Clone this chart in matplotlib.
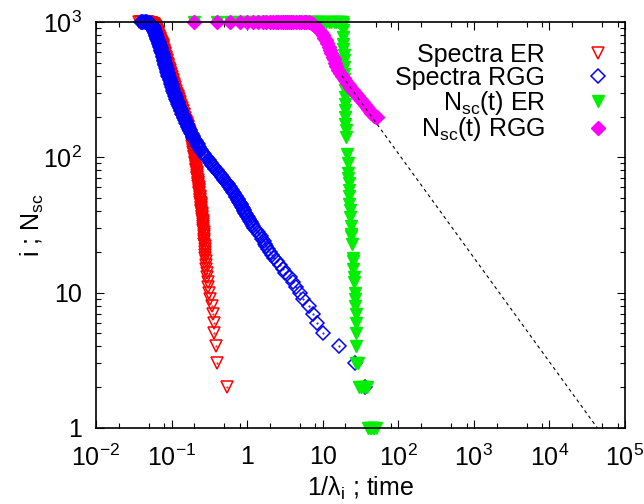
import matplotlib
matplotlib.use("Agg")
import matplotlib.pyplot as plt
from matplotlib.ticker import LogLocator, NullFormatter

plt.rcParams['font.family'] = ['Liberation Sans', 'DejaVu Sans']
plt.rcParams['mathtext.fontset'] = 'custom'
plt.rcParams['mathtext.rm'] = 'Liberation Sans'
plt.rcParams['mathtext.it'] = 'Liberation Sans:italic'
plt.rcParams['mathtext.default'] = 'regular'

# eigenvalue index i (shared by both spectra)
spec_i = [1000, 999, 998, 996, 994, 992, 990, 985, 980, 975,
          970, 965, 960, 955, 950, 945, 940, 930, 920, 910,
          900, 888, 875, 862, 850, 838, 825, 812, 800, 788,
          775, 762, 750, 738, 725, 712, 700, 688, 675, 662,
          650, 638, 625, 612, 600, 588, 575, 562, 550, 538,
          525, 512, 500, 490, 480, 470, 460, 450, 440, 430,
          420, 410, 400, 390, 380, 370, 360, 350, 340, 330,
          320, 310, 300, 292, 285, 278, 270, 262, 255, 248,
          240, 232, 225, 218, 210, 205, 200, 195, 190, 185,
          180, 175, 170, 166, 162, 158, 155, 152, 148, 144,
          140, 137, 134, 131, 128, 125, 122, 119, 116, 113,
          110, 107, 105, 102, 100, 98, 95, 92, 90, 88,
          86, 84, 82, 80, 78, 76, 74, 72, 70, 68,
          66, 64, 63, 61, 60, 58, 57, 55, 54, 52,
          51, 49, 48, 47, 46, 45, 44, 43, 42, 41,
          40, 39, 38, 37, 36, 35, 34, 33, 32, 31,
          30, 29, 28, 27, 26, 25, 24, 23, 22, 21,
          20, 19, 18, 17, 16, 15, 14, 13, 12, 11,
          10, 9, 8, 7, 6, 5, 4, 3, 2]

# 1/lambda_i, ER spectrum
er_x = [0.037, 0.040, 0.042, 0.045, 0.047, 0.049, 0.050, 0.052, 0.054, 0.055,
        0.056, 0.057, 0.058, 0.0585, 0.059, 0.0595, 0.060, 0.0605, 0.061, 0.0615,
        0.062, 0.063, 0.064, 0.0645, 0.065, 0.0655, 0.066, 0.0665, 0.067, 0.068,
        0.069, 0.0695, 0.070, 0.071, 0.072, 0.073, 0.074, 0.075, 0.076, 0.0765,
        0.077, 0.078, 0.079, 0.0795, 0.080, 0.081, 0.082, 0.083, 0.084, 0.085,
        0.086, 0.087, 0.088, 0.089, 0.090, 0.091, 0.092, 0.093, 0.094, 0.095,
        0.096, 0.0975, 0.099, 0.1005, 0.102, 0.1035, 0.105, 0.1065, 0.108, 0.110,
        0.112, 0.114, 0.116, 0.118, 0.120, 0.122, 0.124, 0.126, 0.128, 0.1305,
        0.133, 0.1355, 0.138, 0.141, 0.144, 0.146, 0.148, 0.1505, 0.153, 0.1555,
        0.158, 0.1605, 0.163, 0.165, 0.167, 0.169, 0.171, 0.173, 0.175, 0.1775,
        0.180, 0.1815, 0.183, 0.1845, 0.186, 0.1875, 0.189, 0.1905, 0.192, 0.1935,
        0.195, 0.1965, 0.198, 0.1995, 0.201, 0.202, 0.204, 0.206, 0.207, 0.2085,
        0.210, 0.211, 0.212, 0.2135, 0.215, 0.2165, 0.218, 0.219, 0.220, 0.2215,
        0.223, 0.224, 0.225, 0.227, 0.228, 0.229, 0.230, 0.232, 0.233, 0.235,
        0.236, 0.238, 0.239, 0.2405, 0.242, 0.243, 0.244, 0.2455, 0.247, 0.248,
        0.249, 0.250, 0.252, 0.253, 0.254, 0.255, 0.257, 0.258, 0.259, 0.261,
        0.262, 0.264, 0.266, 0.267, 0.269, 0.270, 0.272, 0.273, 0.275, 0.276,
        0.278, 0.280, 0.281, 0.283, 0.285, 0.288, 0.292, 0.296, 0.300, 0.304,
        0.310, 0.320, 0.345, 0.355, 0.362, 0.368, 0.385, 0.400, 0.550]

# 1/lambda_i, RGG spectrum
rgg_x = [0.039, 0.041, 0.042, 0.044, 0.046, 0.047, 0.048, 0.050, 0.051, 0.052,
         0.053, 0.0535, 0.054, 0.0545, 0.055, 0.0555, 0.056, 0.0565, 0.057, 0.0575,
         0.058, 0.0585, 0.059, 0.0595, 0.060, 0.0605, 0.061, 0.0615, 0.062, 0.063,
         0.064, 0.0645, 0.065, 0.066, 0.067, 0.0675, 0.068, 0.069, 0.070, 0.0705,
         0.071, 0.072, 0.073, 0.0735, 0.074, 0.075, 0.076, 0.077, 0.078, 0.079,
         0.080, 0.0805, 0.081, 0.082, 0.083, 0.084, 0.085, 0.086, 0.087, 0.088,
         0.089, 0.090, 0.091, 0.0925, 0.094, 0.0955, 0.097, 0.0985, 0.100, 0.102,
         0.104, 0.106, 0.108, 0.110, 0.112, 0.114, 0.116, 0.1185, 0.121, 0.1235,
         0.126, 0.129, 0.132, 0.135, 0.138, 0.141, 0.144, 0.147, 0.150, 0.1535,
         0.157, 0.160, 0.163, 0.1665, 0.170, 0.174, 0.178, 0.182, 0.186, 0.1905,
         0.195, 0.200, 0.205, 0.210, 0.215, 0.221, 0.227, 0.2335, 0.240, 0.2475,
         0.255, 0.2625, 0.270, 0.280, 0.290, 0.298, 0.310, 0.322, 0.330, 0.340,
         0.350, 0.365, 0.380, 0.395, 0.410, 0.428, 0.445, 0.462, 0.480, 0.500,
         0.520, 0.545, 0.560, 0.583, 0.595, 0.618, 0.630, 0.660, 0.675, 0.705,
         0.720, 0.750, 0.765, 0.782, 0.800, 0.820, 0.840, 0.860, 0.880, 0.900,
         0.920, 0.950, 0.975, 1.00, 1.03, 1.05, 1.08, 1.12, 1.15, 1.20,
         1.25, 1.32, 1.38, 1.45, 1.52, 1.58, 1.65, 1.72, 1.80, 1.90,
         2.00, 2.15, 2.30, 2.45, 2.70, 2.95, 3.20, 3.65, 4.10, 4.50,
         5.00, 5.50, 6.60, 7.35, 8.30, 10.2, 16.5, 26.7, 36.0]

# N_sc(t), ER
er_t = [0.2, 0.4, 0.6, 0.8, 1.0, 1.2, 1.4, 1.6, 1.8, 2.0, 2.4, 2.8, 3.2, 3.6, 4.0, 4.5, 5.0, 5.5,
        6.0, 6.5, 7.0, 7.5, 8.0, 8.5, 9.0, 9.5, 10, 11, 12, 13, 14, 15, 16, 17, 18,
        18.2, 18.4, 18.5, 18.6, 18.7, 18.8, 18.9, 19.0, 19.1, 19.2, 19.3, 19.4, 19.5, 19.6, 19.7,
        19.8, 19.9, 20.0, 20.2, 20.4, 21.0, 21.3, 21.6, 21.8, 22.0, 22.2, 22.4, 22.6, 22.8, 23.0,
        23.4, 23.8, 24.0, 24.4, 24.8, 25.0, 25.4, 25.8, 26.0, 26.4, 26.6, 27.0, 27.3, 27.6, 27.8,
        28.0, 27.5, 29.0, 30, 32, 34, 36, 38, 40, 42, 44, 46, 48, 50]
er_n = [1000, 1000, 1000, 1000, 1000, 1000, 1000, 1000, 1000, 1000, 1000, 1000, 1000, 1000, 1000, 1000, 1000, 1000,
        1000, 1000, 1000, 1000, 1000, 1000, 1000, 1000, 1000, 1000, 1000, 1000, 1000, 1000, 1000, 1000, 1000,
        1000, 970, 865, 772, 690, 634, 566, 520, 464, 415, 381, 340, 312, 279, 249,
        222, 198, 177, 158, 141, 106, 90, 76, 70, 64, 57, 52, 45, 41, 36,
        31, 27, 26, 23, 18, 17, 15, 13, 12, 10, 9, 8, 7, 6, 5,
        4, 3, 3, 2, 2, 2, 2, 2, 1, 1, 1, 1, 1, 1]

# N_sc(t), RGG
rgg_t = [0.2, 0.4, 0.6, 0.8, 1.0, 1.2, 1.4, 1.6, 1.8, 2.0, 2.2, 2.4, 2.6, 2.8, 3.0, 3.2, 3.4, 3.6,
         3.8, 4.0, 4.4, 4.8, 5.2, 5.6, 6.0, 6.5, 7.0, 7.5, 8.0, 8.5, 9.0, 9.5, 10, 10.5, 11, 11.5,
         12, 12.5, 13, 13.5, 14, 14.5, 15, 16, 17, 18, 19, 20, 21, 22, 23, 24, 25, 26, 27, 28,
         29, 30, 32, 34, 36, 38, 40, 42, 44, 46, 48, 50, 52]
rgg_n = [1000, 1000, 1000, 1000, 1000, 1000, 1000, 1000, 1000, 1000, 1000, 1000, 1000, 1000, 1000, 1000, 1000, 1000,
         1000, 1000, 1000, 1000, 1000, 1000, 1000, 998, 985, 965, 940, 905, 875, 840, 800, 765, 730, 695,
         650, 615, 585, 555, 530, 500, 475, 445, 420, 400, 385, 370, 355, 342, 330, 320, 312, 305, 298, 292,
         284, 276, 264, 254, 244, 235, 226, 218, 212, 207, 203, 200, 197]

# power-law guide (dashed)
fit_t = [18, 4.3e4]
fit_n = [400, 1]

xtick_vals = [1e-2, 1e-1, 1, 10, 1e2, 1e3, 1e4, 1e5]
xtick_labels = ['$10^{-2}$', '$10^{-1}$', '1', '10', '$10^{2}$', '$10^{3}$', '$10^{4}$', '$10^{5}$']
ytick_vals = [1, 10, 1e2, 1e3]
ytick_labels = ['1', '10', '$10^{2}$', '$10^{3}$']

fig = plt.figure(figsize=(6.44, 5.04), dpi=100)
ax = fig.add_axes([0.149, 0.151, 0.8215, 0.8055])

ax.plot(er_x, spec_i, ls='none', marker='v', ms=9, mfc='none', mec='#ff0000', mew=1.1,
        clip_on=False, label='Spectra ER')
ax.plot(er_x, spec_i, ls='none', marker='.', ms=1, color='#ff0000', clip_on=False)
ax.plot(rgg_x, spec_i, ls='none', marker='D', ms=7, mfc='none', mec='#0000ff', mew=1.1,
        clip_on=False, label='Spectra RGG')
ax.plot(rgg_x, spec_i, ls='none', marker='.', ms=1, color='#0000ff', clip_on=False)
ax.plot(er_t, er_n, ls='none', marker='v', ms=9, color='#00ee00', clip_on=False,
        label='N$_{sc}$(t) ER')
ax.plot(rgg_t, rgg_n, ls='none', marker='D', ms=7, color='#ff00ff', clip_on=False,
        label='N$_{sc}$(t) RGG')
ax.plot(fit_t, fit_n, color='black', lw=0.8, dashes=(3, 3))

ax.set_xscale('log')
ax.set_yscale('log')
ax.set_xlim(1e-2, 1e5)
ax.set_ylim(1, 1e3)
ax.set_xticks(xtick_vals, xtick_labels)
ax.set_yticks(ytick_vals, ytick_labels)
ax.xaxis.set_minor_locator(LogLocator(base=10, subs=[2, 5, 8], numticks=20))
ax.xaxis.set_minor_formatter(NullFormatter())
ax.yaxis.set_minor_locator(LogLocator(base=10, subs=range(2, 10), numticks=20))
ax.yaxis.set_minor_formatter(NullFormatter())
ax.tick_params(which='both', direction='in', top=True, right=True, labelsize=18, width=0.8)
ax.tick_params(which='major', length=6)
ax.tick_params(which='minor', length=3.5)
ax.tick_params(axis='x', pad=12)
ax.tick_params(axis='y', pad=10)
for s in ax.spines.values():
    s.set_linewidth(1.2)

ax.set_xlabel('1/λ$_{i}$ ; time', fontsize=18, labelpad=3)
ax.set_ylabel('i ; N$_{sc}$', fontsize=18, labelpad=-2)

ax.legend(loc='upper right', bbox_to_anchor=(0.972, 0.948), markerfirst=False, frameon=False,
          fontsize=18, handlelength=1, handletextpad=1.6, labelspacing=-0.05,
          borderpad=0, borderaxespad=0)

fig.savefig('out.png', dpi=100)
